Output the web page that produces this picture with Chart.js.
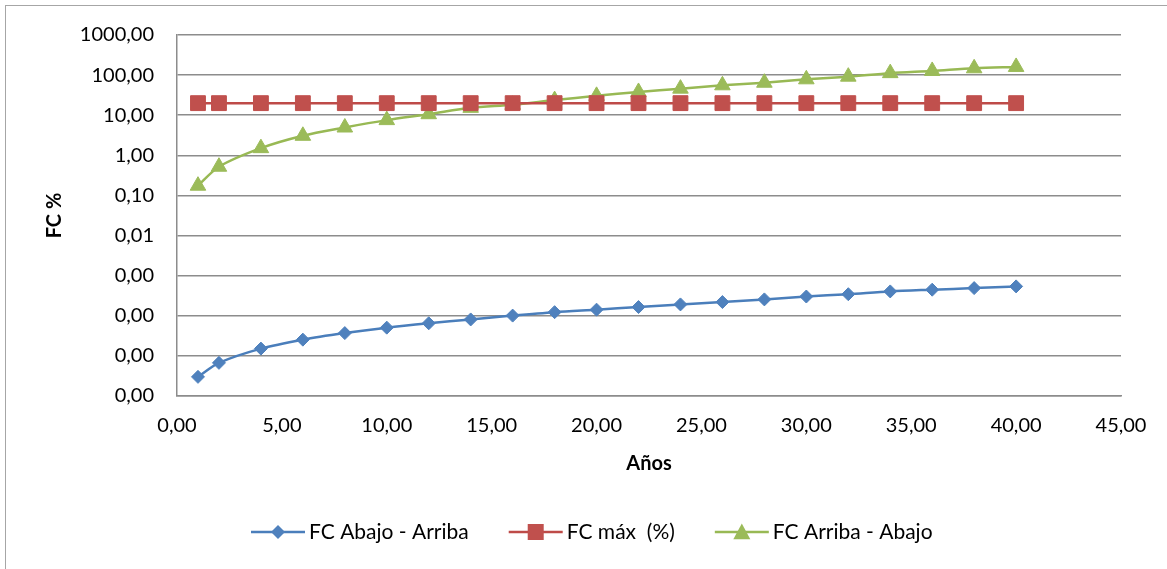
<!DOCTYPE html>
<html>
<head>
<meta charset="utf-8">
<script src="https://cdn.jsdelivr.net/npm/chart.js"></script>
<style>
  html, body { margin: 0; padding: 0; background: #fff; overflow: hidden; }
  #frame { position: absolute; left: 5px; top: 5px; width: 1200px; height: 600px; border: 1px solid #a6a6a6; }
  #wrap { position: absolute; left: 0; top: 0; width: 1167px; height: 569px; }
</style>
</head>
<body>
<div id="frame"></div>
<div id="wrap"><canvas id="fc-chart" width="1167" height="569"></canvas></div>
<script>
// datos
const anos = [1, 2, 4, 6, 8, 10, 12, 14, 16, 18, 20, 22, 24, 26, 28, 30, 32, 34, 36, 38, 40];
const fcAbajoArriba = [3.0e-6, 6.7e-6, 1.52e-5, 2.54e-5, 3.7e-5, 5.06e-5, 6.5e-5, 8.1e-5, 1.01e-4, 1.23e-4,
  1.42e-4, 1.65e-4, 1.92e-4, 2.2e-4, 2.56e-4, 3.02e-4, 3.45e-4, 4.05e-4, 4.47e-4, 4.9e-4, 5.4e-4];
const fcMax = [20, 20, 20, 20, 20, 20, 20, 20, 20, 20, 20, 20, 20, 20, 20, 20, 20, 20, 20, 20, 20];
const fcArribaAbajo = [0.175, 0.52, 1.51, 3.07, 4.94, 7.55, 10.6, 15.3, 18.2, 23.8,
  30.4, 38, 46, 55.7, 64.6, 78.5, 91.5, 112, 127, 148, 160];
const yTicks = [1e-6, 1e-5, 1e-4, 1e-3, 1e-2, 1e-1, 1, 10, 100, 1000];

const FONT = 'Lato, "Open Sans", sans-serif';
const GRID = '#8c8c8c';

const toPoints = (vals) => anos.map((x, i) => ({ x, y: vals[i] }));
const coma = (v) => Number(v).toFixed(2).replace('.', ',');

// simbolos de la leyenda (linea + marcador, como en Excel)
const drawMarker = (ctx, style, cx, cy, r) => {
  ctx.beginPath();
  if (style === 'rectRot') {
    ctx.moveTo(cx, cy - r); ctx.lineTo(cx + r, cy); ctx.lineTo(cx, cy + r); ctx.lineTo(cx - r, cy);
  } else if (style === 'rect') {
    ctx.rect(cx - r, cy - r, 2 * r, 2 * r);
  } else {
    ctx.moveTo(cx, cy - r); ctx.lineTo(cx + r, cy + r * 0.85); ctx.lineTo(cx - r, cy + r * 0.85);
  }
  ctx.closePath();
  ctx.fill();
};

const legendPlugin = {
  id: 'excelLegend',
  afterDraw(chart) {
    const ctx = chart.ctx;
    const y = 532;
    let x = 251;
    ctx.save();
    ctx.font = '21px ' + FONT;
    ctx.textBaseline = 'middle';
    chart.data.datasets.forEach(ds => {
      ctx.strokeStyle = ds.borderColor;
      ctx.lineWidth = 2.5;
      ctx.beginPath(); ctx.moveTo(x, y); ctx.lineTo(x + 54, y); ctx.stroke();
      ctx.fillStyle = ds.pointBackgroundColor;
      drawMarker(ctx, ds.pointStyle, x + 27, y, ds.legendSize);
      ctx.fillStyle = '#000';
      ctx.fillText(ds.label, x + 58, y);
      x += 58 + ctx.measureText(ds.label).width + 40;
    });
    ctx.restore();
  }
};

new Chart(document.getElementById('fc-chart'), {
  type: 'scatter',
  data: {
    datasets: [
      {
        label: 'FC Abajo - Arriba',
        data: toPoints(fcAbajoArriba),
        showLine: true,
        borderColor: '#4A7EBB', backgroundColor: '#4F81BD',
        pointBackgroundColor: '#4F81BD', pointBorderColor: '#4F81BD',
        pointStyle: 'rectRot', pointRadius: 6.5, pointBorderWidth: 1,
        borderWidth: 2.5, tension: 0.3, legendSize: 7
      },
      {
        label: 'FC máx  (%)',
        data: toPoints(fcMax),
        showLine: true,
        borderColor: '#BE4B48', backgroundColor: '#C0504D',
        pointBackgroundColor: '#C0504D', pointBorderColor: '#C0504D',
        pointStyle: 'rect', pointRadius: 10.5, pointBorderWidth: 1,
        borderWidth: 2.5, tension: 0, legendSize: 8
      },
      {
        label: 'FC Arriba - Abajo',
        data: toPoints(fcArribaAbajo),
        showLine: true,
        borderColor: '#98B954', backgroundColor: '#9BBB59',
        pointBackgroundColor: '#9BBB59', pointBorderColor: '#9BBB59',
        pointStyle: 'triangle', pointRadius: 9, pointBorderWidth: 1,
        borderWidth: 2.5, tension: 0.3, legendSize: 8.5
      }
    ]
  },
  options: {
    responsive: false,
    animation: false,
    layout: { padding: { left: 0, top: 34, right: 46, bottom: 80 } },
    plugins: { legend: { display: false }, tooltip: { enabled: false } },
    scales: {
      x: {
        type: 'linear', min: 0, max: 45,
        grid: { display: false, drawTicks: false },
        border: { display: true, color: GRID, width: 1.5 },
        ticks: { stepSize: 5, padding: 18, color: '#000', font: { family: FONT, size: 20 }, callback: coma },
        title: { display: true, text: 'Años', color: '#000', font: { family: FONT, size: 20, weight: 'bold' }, padding: { top: 0, bottom: 13 } },
        afterFit: (scale) => { scale.height = 93; }
      },
      y: {
        type: 'logarithmic', min: 1e-6, max: 1000,
        afterBuildTicks: (scale) => { scale.ticks = yTicks.map(v => ({ value: v })); },
        grid: { color: GRID, lineWidth: 1.5, drawTicks: false },
        border: { display: true, color: GRID, width: 1.5 },
        ticks: { padding: 23, color: '#000', font: { family: FONT, size: 20 }, callback: coma },
        title: { display: true, text: 'FC %', color: '#000', font: { family: FONT, size: 20, weight: 'bold' }, padding: { top: 43, bottom: 0 } },
        afterFit: (scale) => { scale.width = 177; }
      }
    }
  },
  plugins: [legendPlugin]
});
</script>
</body>
</html>
